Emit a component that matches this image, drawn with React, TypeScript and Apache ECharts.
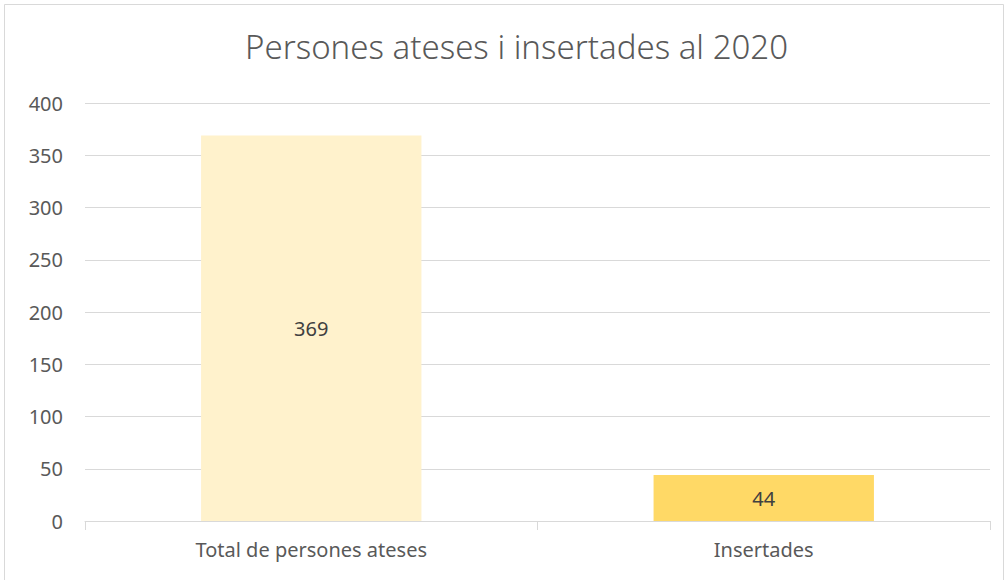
import React, { useEffect, useRef } from "react";
import * as echarts from "echarts";

const categories = ["Total de persones ateses", "Insertades"];
const values = [369, 44];
const barColors = ["#FFF2CC", "#FFD966"];
const yTicks = { min: 0, max: 400, interval: 50 };
const titleText = "Persones ateses i insertades al 2020";

export default function App() {
  const ref = useRef<HTMLDivElement>(null);
  useEffect(() => {
    if (!ref.current) return;
    const chart = echarts.init(ref.current, null, { renderer: "svg" });
    const font = "'Noto Sans', sans-serif";
    chart.setOption({
      animation: false,
      backgroundColor: "#ffffff",
      title: {
        text: titleText,
        left: 240,
        top: 25,
        textStyle: { fontFamily: font, fontSize: 33, fontWeight: 300, color: "#595959" },
      },
      graphic: [
        {
          type: "rect",
          shape: { x: 4.5, y: 4.5, width: 999, height: 600 },
          style: { fill: "none", stroke: "#d9d9d9", lineWidth: 1 },
          silent: true,
        },
      ],
      grid: { left: 85, right: 15, top: 103, bottom: 59 },
      xAxis: {
        type: "category",
        data: categories,
        axisLine: { show: true, lineStyle: { color: "#d9d9d9", width: 1 } },
        axisTick: { show: true, alignWithLabel: false, length: 9, lineStyle: { color: "#d9d9d9" } },
        axisLabel: { fontFamily: font, fontSize: 20, color: "#595959", margin: 18 },
      },
      yAxis: {
        type: "value",
        min: yTicks.min,
        max: yTicks.max,
        interval: yTicks.interval,
        axisLine: { show: false },
        axisTick: { show: false },
        splitLine: { lineStyle: { color: "#d9d9d9", width: 1 } },
        axisLabel: { fontFamily: font, fontSize: 20, color: "#595959", margin: 22 },
      },
      series: [
        {
          type: "bar",
          barWidth: "48.7%",
          data: values.map((v, i) => ({ value: v, itemStyle: { color: barColors[i] } })),
          label: {
            show: true,
            position: "inside",
            fontFamily: font,
            fontSize: 20,
            color: "#404040",
          },
        },
      ],
    });
    return () => chart.dispose();
  }, []);
  return (
    <div
      ref={ref}
      style={{ position: "fixed", left: 0, top: 0, width: 1005, height: 580 }}
    />
  );
}
